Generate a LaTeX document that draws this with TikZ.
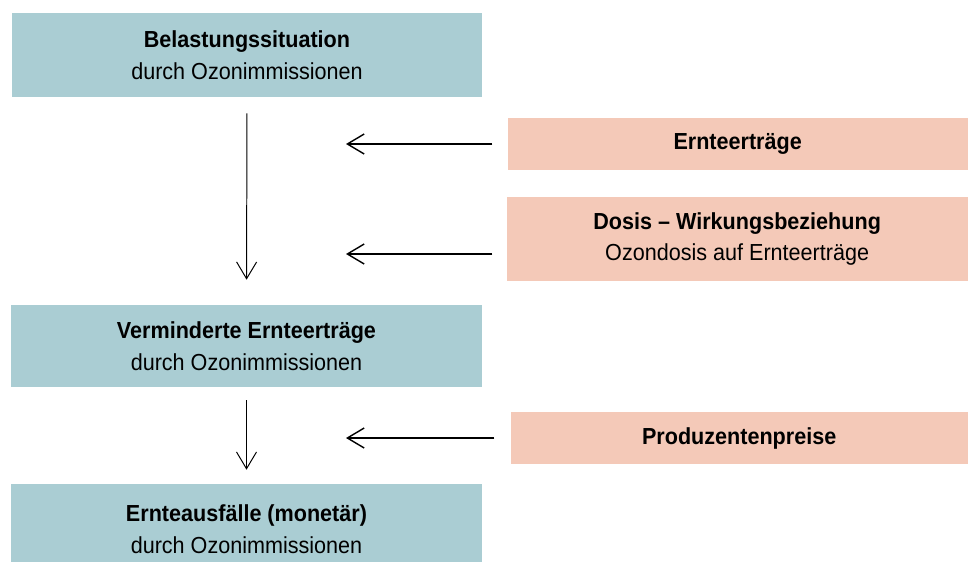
\documentclass[tikz,border=0pt]{standalone}
\usepackage{fontspec}
\setmainfont[FakeStretch=0.93]{Liberation Sans}
\usetikzlibrary{arrows.meta,positioning,calc}
\definecolor{ozone}{HTML}{AACDD3}
\definecolor{factor}{HTML}{F4C9B8}

\begin{document}
\begin{tikzpicture}[x=0.025cm,y=-0.025cm,
  stage/.style={fill=ozone,minimum width=11.75cm,align=center,inner sep=0pt,
    font=\fontsize{16.5}{22.7}\selectfont},
  input/.style={fill=factor,minimum width=11.5cm,align=center,inner sep=0pt,
    font=\fontsize{16.5}{22.7}\selectfont},
  flow/.style={-{Straight Barb[length=4.2mm,width=5mm]},line width=0.7pt},
  feed/.style={-{Straight Barb[length=4.2mm,width=5mm]},line width=1pt}]
\useasboundingbox (0,0) rectangle (968,561);
% chain on the left
\node[stage,minimum height=2.1cm] (load) at (247,55) {\textbf{Belastungssituation}\\durch Ozonimmissionen};
\node[stage,minimum height=2.05cm] (harm) at (246.5,346) {\textbf{Verminderte Ernteerträge}\\durch Ozonimmissionen};
\node[stage,minimum height=2.25cm] (loss) at (246.5,529) {\textbf{Ernteausfälle (monetär)}\\durch Ozonimmissionen};
% inputs on the right
\node[input,minimum height=1.3cm,anchor=east] (yield) at (968,144) {\textbf{Ernteerträge}};
\node[input,minimum height=2.1cm,minimum width=11.525cm,anchor=east] (dose) at (968,239) {\textbf{Dosis – Wirkungsbeziehung}\\Ozondosis auf Ernteerträge};
\node[input,minimum height=1.3cm,minimum width=11.425cm,anchor=east] (price) at (968,438) {\textbf{Produzentenpreise}};
\coordinate (tip) at (346,0);
\coordinate (dosein) at ($(dose.west)+(0,15)$);
\draw[flow,shorten <=0.4cm,shorten >=0.625cm] (load.south) -- (harm.north);
\draw[flow,shorten <=0.325cm,shorten >=0.35cm] (harm.south) -- (loss.north);
\draw[feed,shorten <=0.375cm] (yield.west) -- (yield.west -| tip);
\draw[feed,shorten <=0.35cm] (dosein) -- (dosein -| tip);
\draw[feed,shorten <=0.4cm] (price.west) -- (price.west -| tip);
\end{tikzpicture}
\end{document}
